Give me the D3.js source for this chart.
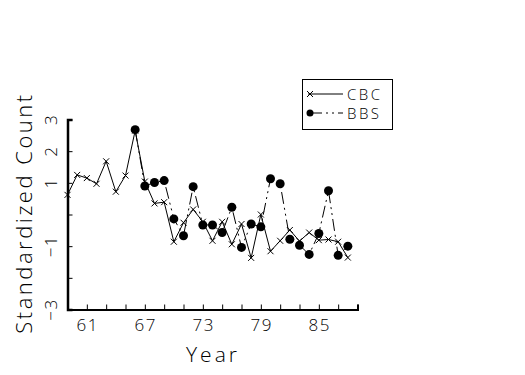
<!DOCTYPE html>
<html>
<head>
<meta charset="utf-8">
<script src="https://cdn.jsdelivr.net/npm/d3@7"></script>
<style>
  body { margin: 0; background: #fff; }
  text { font-family: "Open Sans", "DejaVu Sans", sans-serif; font-weight: 300; fill: #000; }
</style>
</head>
<body>
<div></div>
<script>
// CBC = Christmas Bird Count, BBS = Breeding Bird Survey
var cbcYears = [59, 60, 61, 62, 63, 64, 65, 66, 67, 68, 69, 70, 71, 72, 73,
                74, 75, 76, 77, 78, 79, 80, 81, 82, 83, 84, 85, 86, 87, 88];
var cbcValues = [0.62, 1.25, 1.15, 0.97, 1.68, 0.72, 1.23, 2.65, 1.04, 0.35, 0.39, -0.86, -0.26, 0.16, -0.23,
                 -0.83, -0.23, -0.94, -0.30, -1.37, 0.00, -1.16, -0.83, -0.49, -0.84, -0.57, -0.81, -0.79, -0.86, -1.36];
var bbsYears = [66, 67, 68, 69, 70, 71, 72, 73, 74, 75, 76, 77,
                78, 79, 80, 81, 82, 83, 84, 85, 86, 87, 88];
var bbsValues = [2.68, 0.90, 1.01, 1.07, -0.14, -0.67, 0.88, -0.33, -0.33, -0.57, 0.23, -1.04,
                 -0.30, -0.39, 1.13, 0.97, -0.78, -0.97, -1.26, -0.60, 0.75, -1.29, -1.00];
var xTicks = [59, 61, 63, 65, 67, 69, 71, 73, 75, 77, 79, 81, 83, 85, 87, 89];
var xLabels = [61, 67, 73, 79, 85];
var yTicks = [3, 2, 1, 0, -1, -2, -3];
var yLabels = [3, 2, 1, -1, -3];

var width = 525,
    height = 375;
var svg = d3.select("div")
    .append("svg")
    .attr("width", width)
    .attr("height", height);

var x = d3.scaleLinear().domain([59, 89]).range([67.5, 357.5]);
var y = d3.scaleLinear().domain([-3, 3]).range([309.5, 119.5]);

// axes: ticks point inward
svg.append("g")
    .attr("transform", "translate(0,309.5)")
    .call(d3.axisTop(x).tickValues(xTicks).tickSize(5).tickFormat(""))
    .call(function (g) { g.select(".domain").attr("stroke-width", 2); });

svg.append("g")
    .attr("transform", "translate(67.5,0)")
    .call(d3.axisRight(y).tickValues(yTicks).tickSize(5).tickFormat(""))
    .call(function (g) { g.select(".domain").attr("stroke-width", 2.5); });

svg.selectAll(".xlab")
    .data(xLabels)
    .enter()
    .append("text")
    .attr("x", function (d) { return x(d) + 1; })
    .attr("y", 331)
    .attr("text-anchor", "middle")
    .attr("font-size", 17)
    .attr("letter-spacing", 1.5)
    .text(function (d) { return d; });

svg.selectAll(".ylab")
    .data(yLabels)
    .enter()
    .append("text")
    .attr("transform", function (d) { return "translate(57," + y(d) + ") rotate(-90)"; })
    .attr("text-anchor", "middle")
    .attr("font-size", 17)
    .attr("letter-spacing", 1.5)
    .text(function (d) { return d < 0 ? "\u2212" + Math.abs(d) : d; });

svg.append("text")
    .attr("x", 213)
    .attr("y", 362)
    .attr("text-anchor", "middle")
    .attr("font-size", 21)
    .attr("letter-spacing", 3)
    .text("Year");

svg.append("text")
    .attr("transform", "translate(32,213) rotate(-90)")
    .attr("text-anchor", "middle")
    .attr("font-size", 22)
    .attr("letter-spacing", 2.5)
    .text("Standardized Count");

var line = d3.line()
    .x(function (d) { return x(d[0]); })
    .y(function (d) { return y(d[1]); });

var cbc = d3.zip(cbcYears, cbcValues);
var bbs = d3.zip(bbsYears, bbsValues);

svg.append("path")
    .datum(bbs)
    .attr("d", line)
    .attr("fill", "none")
    .attr("stroke", "#000")
    .attr("stroke-width", 1)
    .attr("stroke-dasharray", "12,4,2,4,2,4");

svg.append("path")
    .datum(cbc)
    .attr("d", line)
    .attr("fill", "none")
    .attr("stroke", "#000")
    .attr("stroke-width", 1);

function cross(g, cx, cy) {
    g.append("path")
        .attr("d", "M" + (cx - 3) + "," + (cy - 3) + "L" + (cx + 3) + "," + (cy + 3) +
                   "M" + (cx - 3) + "," + (cy + 3) + "L" + (cx + 3) + "," + (cy - 3))
        .attr("stroke", "#000")
        .attr("stroke-width", 1);
}

var cbcMarks = svg.append("g");
cbc.forEach(function (d) { cross(cbcMarks, x(d[0]), y(d[1])); });

svg.append("g")
    .selectAll("circle")
    .data(bbs)
    .enter()
    .append("circle")
    .attr("cx", function (d) { return x(d[0]); })
    .attr("cy", function (d) { return y(d[1]); })
    .attr("r", 4.5)
    .attr("fill", "#000");

// legend
var leg = svg.append("g");
leg.append("rect")
    .attr("x", 302.5).attr("y", 79.5)
    .attr("width", 90).attr("height", 50)
    .attr("fill", "none").attr("stroke", "#000");
leg.append("line")
    .attr("x1", 308).attr("x2", 343).attr("y1", 94).attr("y2", 94)
    .attr("stroke", "#000");
cross(leg, 310, 94);
leg.append("line")
    .attr("x1", 310).attr("x2", 343).attr("y1", 113).attr("y2", 113)
    .attr("stroke", "#000").attr("stroke-dasharray", "12,4,2,4,2,4");
leg.append("circle").attr("cx", 310).attr("cy", 113).attr("r", 3.5).attr("fill", "#000");
leg.append("text").attr("x", 347).attr("y", 100).attr("font-size", 15).attr("letter-spacing", 2.5).text("CBC");
leg.append("text").attr("x", 347).attr("y", 119).attr("font-size", 15).attr("letter-spacing", 2.5).text("BBS");
</script>
</body>
</html>
